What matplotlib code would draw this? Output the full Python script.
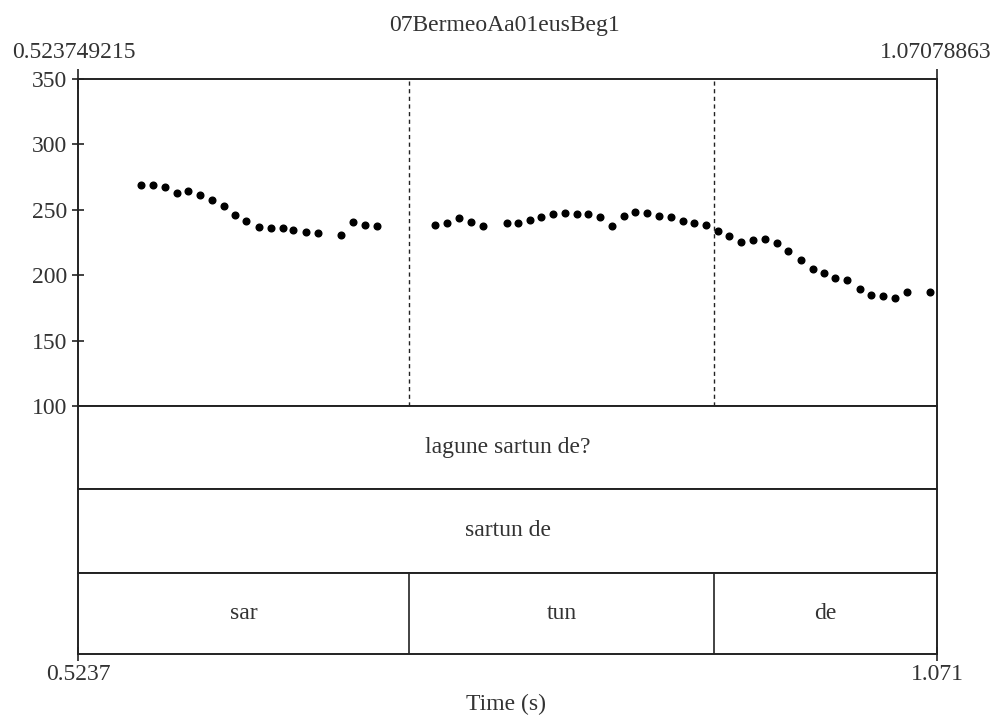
import matplotlib
matplotlib.use("Agg")
import matplotlib.pyplot as plt

plt.rcParams['font.family'] = ['Liberation Serif', 'DejaVu Serif']

# ---------------- data ----------------
title = "07BermeoAa01eusBeg1"
t_start = 0.523749215
t_end = 1.07078863
start_label = "0.523749215"
end_label = "1.07078863"
axis_start_label = "0.5237"
axis_end_label = "1.071"
xlabel = "Time (s)"

f0_times = [0.5637, 0.5713, 0.5790, 0.5866, 0.5936, 0.6013, 0.6089, 0.6165, 0.6239, 0.6309,
            0.6392, 0.6469, 0.6541, 0.6609, 0.6690, 0.6766, 0.6910, 0.6991, 0.7067, 0.7140,
            0.7511, 0.7587, 0.7666, 0.7738, 0.7819, 0.7968, 0.8038, 0.8116, 0.8188, 0.8264,
            0.8339, 0.8413, 0.8485, 0.8562, 0.8638, 0.8713, 0.8785, 0.8863, 0.8939, 0.9016,
            0.9088, 0.9160, 0.9237, 0.9315, 0.9385, 0.9462, 0.9538, 0.9614, 0.9691, 0.9761,
            0.9840, 0.9916, 0.9990, 1.0060, 1.0137, 1.0217, 1.0289, 1.0362, 1.0442, 1.0519,
            1.0663]
f0_values = [269.2, 269.0, 267.7, 263.1, 264.1, 261.1, 257.5, 253.0, 245.8, 241.8,
             237.2, 236.2, 236.2, 234.7, 232.9, 232.1, 230.9, 240.8, 238.7, 237.4,
             238.7, 240.0, 244.1, 241.0, 237.4, 240.0, 240.0, 242.5, 244.8, 246.9,
             247.9, 246.6, 246.9, 244.3, 237.4, 245.3, 248.6, 247.9, 245.3, 244.3,
             241.2, 240.0, 238.5, 234.1, 229.6, 225.2, 226.8, 227.8, 224.8, 218.7,
             211.3, 204.6, 201.6, 197.6, 196.6, 189.4, 184.6, 184.1, 182.5, 186.9,
             186.9]

y_min, y_max = 100, 350
y_ticks = [100, 150, 200, 250, 300, 350]

tier1_label = "lagune sartun de?"
tier2_label = "sartun de"
syllable_labels = ["sar", "tun", "de"]
syllable_bounds = [0.523749215, 0.7345, 0.9288, 1.07078863]

# ---------------- layout ----------------
W, H = 997, 717
fig = plt.figure(figsize=(W / 100, H / 100), dpi=100)
fig.patch.set_facecolor('white')

def rect(x0, y0, x1, y1):
    return [x0 / W, 1 - y1 / H, (x1 - x0) / W, (y1 - y0) / H]

ink = '#222222'
txt = '#333333'
fs = 17

ax = fig.add_axes(rect(78, 79, 937, 406))
ax.set_xlim(t_start, t_end)
ax.set_ylim(y_min, y_max)
ax.plot(f0_times, f0_values, 'o', color='black', ms=4.8, mec='black')
for b in syllable_bounds[1:-1]:
    ax.axvline(b, color=ink, lw=1.0, ls=(0, (3, 2.5)))
ax.set_yticks(y_ticks)
ax.set_yticklabels([str(v) for v in y_ticks], fontsize=fs, color=txt)
ax.tick_params(axis='y', direction='inout', length=9, width=1.2, color=ink, pad=3)
ax.set_xticks([t_start, t_end])
ax.tick_params(axis='x', top=True, bottom=False, labeltop=False, labelbottom=False,
               direction='inout', length=14, width=1.2, color=ink)
for s in ax.spines.values():
    s.set_color(ink)
    s.set_linewidth(1.4)

tiers = [(406, 489), (489, 573), (573, 654)]
tier_axes = []
for (y0, y1) in tiers:
    ta = fig.add_axes(rect(78, y0, 937, y1))
    ta.set_xlim(t_start, t_end)
    ta.set_ylim(0, 1)
    ta.set_xticks([])
    ta.set_yticks([])
    for s in ta.spines.values():
        s.set_color(ink)
        s.set_linewidth(1.4)
    tier_axes.append(ta)

bottom_ax = tier_axes[-1]
bottom_ax.set_xticks([t_start, t_end])
bottom_ax.tick_params(axis='x', bottom=True, labelbottom=False,
                      direction='inout', length=10, width=1.2, color=ink)

mid = (t_start + t_end) / 2
tier_axes[0].text(mid, 0.5, tier1_label, ha='center', va='center', fontsize=fs, color=txt)
tier_axes[1].text(mid, 0.5, tier2_label, ha='center', va='center', fontsize=fs, color=txt)
for i, lab in enumerate(syllable_labels):
    a, b = syllable_bounds[i], syllable_bounds[i + 1]
    tier_axes[2].text((a + b) / 2, 0.5, lab, ha='center', va='center', fontsize=fs, color=txt)
for b in syllable_bounds[1:-1]:
    tier_axes[2].axvline(b, color=ink, lw=1.2)

# texts around
fig.text(505 / W, 1 - 25 / H, title, ha='center', va='center', fontsize=fs, color=txt)
fig.text(12 / W, 1 - 52 / H, start_label, ha='left', va='center', fontsize=fs, color=txt)
fig.text(992 / W, 1 - 52 / H, end_label, ha='right', va='center', fontsize=fs, color=txt)
fig.text(78 / W, 1 - 675 / H, axis_start_label, ha='center', va='center', fontsize=fs, color=txt)
fig.text(937 / W, 1 - 675 / H, axis_end_label, ha='center', va='center', fontsize=fs, color=txt)
fig.text(506 / W, 1 - 704 / H, xlabel, ha='center', va='center', fontsize=fs, color=txt)

fig.savefig('out.png', dpi=100, facecolor='white')
